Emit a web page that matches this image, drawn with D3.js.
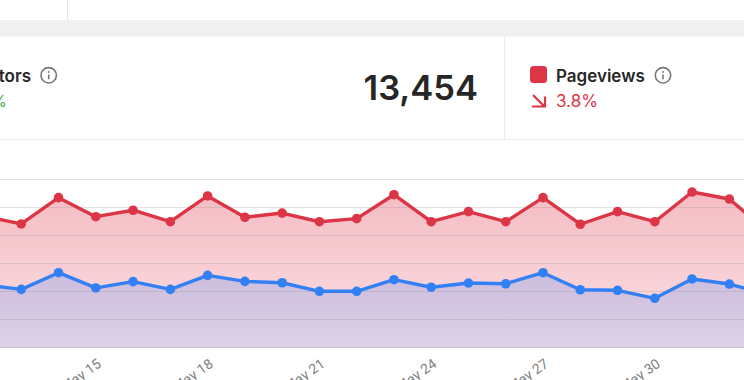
<!DOCTYPE html>
<html><head><meta charset="utf-8">
<script src="https://cdnjs.cloudflare.com/ajax/libs/d3/7.8.5/d3.min.js"></script>
<style>html,body{margin:0;padding:0;background:#fff;overflow:hidden}svg{display:block}text{font-family:Inter,"Noto Sans",sans-serif}</style>
</head><body><div id="c"></div>
<script>
const dates = ["2024-05-12","2024-05-13","2024-05-14","2024-05-15","2024-05-16","2024-05-17","2024-05-18","2024-05-19","2024-05-20","2024-05-21","2024-05-22","2024-05-23","2024-05-24","2024-05-25","2024-05-26","2024-05-27","2024-05-28","2024-05-29","2024-05-30","2024-05-31","2024-06-01","2024-06-02"];
const pageviews = [943,886,1074,938,984,902,1086,934,964,902,924,1095,902,974,902,1074,884,974,902,1114,1064,836];
const visitors = [452,419,538,429,474,419,519,476,466,405,405,488,434,464,459,538,416,412,355,493,457,386];
const tickDates = ["2024-05-15","2024-05-18","2024-05-21","2024-05-24","2024-05-27","2024-05-30"];
const yTicks = [0,200,400,600,800,1000,1200];

const W=744,H=380;
const svg=d3.select("#c").append("svg").attr("width",W).attr("height",H);
const defs=svg.append("defs");
const parse=d3.utcParse("%Y-%m-%d");
const x=d3.scaleUtc().domain([parse(dates[0]),parse(dates[dates.length-1])]).range([-16,766.6]);
const y=d3.scaleLinear().domain([0,1200]).range([348,180]);

// page chrome
svg.append("rect").attr("x",0).attr("y",20).attr("width",W).attr("height",16.5).attr("fill","#f0f0f0");
svg.append("line").attr("x1",67.5).attr("x2",67.5).attr("y1",0).attr("y2",20).attr("stroke","#e6e6e6");
svg.append("line").attr("x1",504.5).attr("x2",504.5).attr("y1",36.5).attr("y2",139).attr("stroke","#ececec");
svg.append("line").attr("x1",0).attr("x2",W).attr("y1",139.5).attr("y2",139.5).attr("stroke","#ececec");

function grad(id,c,a,b){
  const g=defs.append("linearGradient").attr("id",id).attr("x1",0).attr("x2",0).attr("y1",0).attr("y2",1);
  g.append("stop").attr("offset",0).attr("stop-color",c).attr("stop-opacity",a);
  g.append("stop").attr("offset",1).attr("stop-color",c).attr("stop-opacity",b);
}
grad("gr","#e0364c",0.33,0.155);
grad("gb","#3c80ff",0.23,0.15);

const rows=dates.map((d,i)=>({d:parse(d),p:pageviews[i],v:visitors[i]}));
const area=k=>d3.area().x(r=>x(r.d)).y0(y(0)).y1(r=>y(r[k]));
const line=k=>d3.line().x(r=>x(r.d)).y(r=>y(r[k]));

svg.append("path").attr("d",area("p")(rows)).attr("fill","url(#gr)");
svg.append("path").attr("d",area("v")(rows)).attr("fill","url(#gb)");

svg.append("g").selectAll("line").data(yTicks).join("line")
  .attr("x1",0).attr("x2",W).attr("y1",d=>Math.round(y(d))-0.5).attr("y2",d=>Math.round(y(d))-0.5)
  .attr("stroke","#8c8c8c").attr("stroke-opacity",0.24);

function series(k,c){
  svg.append("path").attr("d",line(k)(rows)).attr("fill","none").attr("stroke",c).attr("stroke-width",3.4).attr("stroke-linejoin","round");
  svg.append("g").selectAll("circle").data(rows).join("circle")
    .attr("cx",r=>x(r.d)).attr("cy",r=>y(r[k])).attr("r",4.8).attr("fill",c);
}
series("p","#dc3545");
series("v","#3380f5");

const fmt=d3.utcFormat("%b %-d");
const ax=svg.append("g").attr("transform","translate(0,348)")
  .call(d3.axisBottom(x).tickValues(tickDates.map(parse)).tickFormat(fmt).tickSize(0));
ax.select(".domain").remove();
ax.selectAll("text").attr("transform","translate(6,18) rotate(-35)").attr("text-anchor","end").attr("x",0).attr("y",0).attr("dy","0")
  .attr("fill","#808080").style("font-family","Roboto,Inter,sans-serif").style("font-size","14px");

// stats row
const ink="#262626";
svg.append("text").attr("x",31).attr("y",81.5).attr("text-anchor","end").attr("font-size",17).attr("font-weight",600).attr("fill",ink).text("Visitors");
svg.append("text").attr("x",7).attr("y",107).attr("text-anchor","end").attr("font-size",16.5).attr("fill","#3fae5a").text("4.6%");
svg.append("text").attr("x",478).attr("y",100).attr("text-anchor","end").attr("font-size",34.5).attr("font-weight",600).attr("fill",ink).text("13,454");

svg.append("rect").attr("x",530).attr("y",66).attr("width",17).attr("height",17).attr("rx",3.5).attr("fill","#dc3545");
svg.append("text").attr("x",556).attr("y",81.5).attr("font-size",17).attr("font-weight",600).attr("fill",ink).text("Pageviews");
svg.append("path").attr("d","M533 95 L544 106 M545 96.5 V106.5 H532").attr("fill","none").attr("stroke","#dc3545").attr("stroke-width",2.2);
svg.append("text").attr("x",556).attr("y",107).attr("font-size",17).attr("fill","#dc3545").text("3.8%");

function info(cx,cy){
  const g=svg.append("g").attr("transform",`translate(${cx},${cy})`);
  g.append("circle").attr("r",7.7).attr("fill","none").attr("stroke","#777").attr("stroke-width",1.6);
  g.append("circle").attr("cy",-3.4).attr("r",1).attr("fill","#777");
  g.append("line").attr("y1",-0.8).attr("y2",4).attr("stroke","#777").attr("stroke-width",1.6);
}
info(48.7,75.3);
info(663,75.3);
</script></body></html>
